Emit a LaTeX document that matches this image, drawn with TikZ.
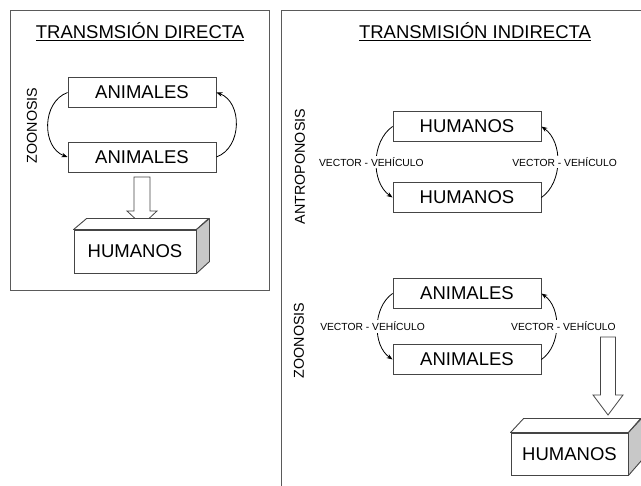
\documentclass[tikz,border=0pt]{standalone}
\usepackage{fontspec}
\setmainfont{Liberation Sans}
\usetikzlibrary{arrows.meta}
\definecolor{framegray}{HTML}{5A5A5A}
\definecolor{boxgray}{HTML}{454545}
\definecolor{sidegray}{HTML}{C8C8C8}
\newcommand\titlefont{\fontsize{18.5}{20}\selectfont}
\newcommand\boxfont{\fontsize{18.5}{20}\selectfont}
\newcommand\sidefont{\fontsize{14.3}{16}\selectfont}
\newcommand\vecfont{\fontsize{10.3}{12}\selectfont}

\begin{document}
\begin{tikzpicture}[x=1pt, y=-1pt,
  frame/.style={draw=framegray, line width=1pt},
  box/.style={shape=rectangle, draw=boxgray, line width=0.9pt, fill=white, inner sep=0pt, minimum width=148pt, minimum height=30pt, font=\boxfont},
  boxline/.style={draw=boxgray, line width=0.9pt, line join=round},
  curvearrow/.style={-{Stealth[length=6pt, width=4.5pt]}, line width=0.8pt},
  vlab/.style={fill=white, inner sep=1.5pt, font=\vecfont},
  sidelab/.style={rotate=90, font=\sidefont},
  blockarrow/.style={draw=boxgray, line width=0.8pt, fill=white, line join=miter}]
\useasboundingbox (0,0) rectangle (641,486);
% frames
\draw[frame] (10,11) rectangle (269,291);
\draw[frame] (281,486) -- (281,11) -- (641,11);
% left panel
\node[anchor=base, font=\titlefont] (T1) at (140,39) {\underline{TRANSMSIÓN DIRECTA}};
\node[sidelab] (Z1) at (32,125.5) {ZOONOSIS};
\node[box] (A1) at (142,92.5) {ANIMALES};
\node[box] (A2) at (142,157) {ANIMALES};
\draw[curvearrow] (A1.west) to[out=200, in=160, looseness=1.1] (A2.west);
\draw[curvearrow] (A2.east) to[out=20, in=-20, looseness=1.1] (A1.east);
\draw[blockarrow] (134,177) -- (150,177) -- (150,211) -- (157,211) -- (142,225) -- (127,211) -- (134,211) -- cycle;
\node[box, minimum width=122pt, minimum height=43pt] (HL) at (135,251.5) {HUMANOS};
\draw[boxline, fill=white] (HL.north west) -- ++(13,-11) -- ++(122,0) -- (HL.north east) -- cycle;
\draw[boxline, fill=sidegray] (HL.north east) -- ++(13,-11) -- ++(0,43) -- (HL.south east) -- cycle;
% right panel
\node[anchor=base, font=\titlefont] (T2) at (475,39) {\underline{TRANSMISIÓN INDIRECTA}};
\node[sidelab] (Z2) at (300,166.5) {ANTROPONOSIS};
\node[box] (H1) at (467,126.5) {HUMANOS};
\node[box] (H2) at (467,197.5) {HUMANOS};
\draw[curvearrow] (H1.west) to[out=215, in=145, looseness=0.95] node[vlab, xshift=-5pt] {VECTOR - VEHÍCULO} (H2.west);
\draw[curvearrow] (H2.east) to[out=35, in=-35, looseness=0.95] node[vlab, xshift=7pt] {VECTOR - VEHÍCULO} (H1.east);
\node[sidelab] (Z3) at (299,340.5) {ZOONOSIS};
\node[box] (A3) at (467,293.5) {ANIMALES};
\node[box] (A4) at (467,359.5) {ANIMALES};
\draw[curvearrow] (A3.west) to[out=215, in=145, looseness=0.95] node[vlab, xshift=-5pt] {VECTOR - VEHÍCULO} (A4.west);
\draw[curvearrow] (A4.east) to[out=35, in=-35, looseness=0.95] node[vlab, xshift=7pt] {VECTOR - VEHÍCULO} (A3.east);
\draw[blockarrow] (600.5,337) -- (615.5,337) -- (615.5,395) -- (623,395) -- (608,415) -- (593,395) -- (600.5,395) -- cycle;
\node[box, minimum width=117pt, minimum height=42pt] (HR) at (569.5,454) {HUMANOS};
\draw[boxline, fill=white] (HR.north west) -- ++(13,-14) -- ++(117,0) -- (HR.north east) -- cycle;
\draw[boxline, fill=sidegray] (HR.north east) -- ++(13,-14) -- ++(0,42) -- (HR.south east) -- cycle;
\end{tikzpicture}
\end{document}
